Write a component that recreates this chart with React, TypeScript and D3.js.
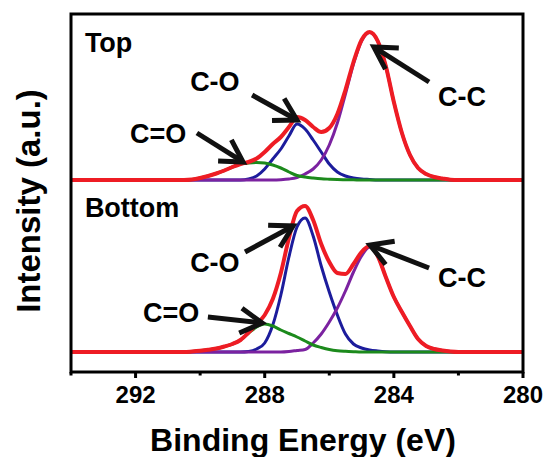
import React from "react";
import * as d3 from "d3";

// Binding energy grid (eV)
const energy = [294, 291, 290.5, 290.25, 290, 289.75, 289.5, 289.25, 289, 288.75, 288.5, 288.25, 288, 287.75, 287.5, 287.25, 287, 286.75, 286.5, 286.25, 286, 285.75, 285.5, 285.25, 285, 284.75, 284.5, 284.25, 284, 283.75, 283.5, 283.25, 283, 282.75, 282.5, 282.25, 282, 281.5, 280];

// Top spectrum (a.u.)
const topEnvelope = [0, 0, 0, 0.5, 2, 4, 6.5, 9.5, 13, 16, 18, 21.5, 28, 36, 43, 53, 63, 60, 53, 48, 52, 66, 90, 118, 140, 148, 139, 114, 78, 47, 25, 12, 6, 3, 1.5, 0.3, 0, 0, 0];
const topCC = [0, 0, 0, 0, 0, 0, 0, 0, 0, 0, 0, 0, 0, 0, 0.3, 1, 2.5, 6, 11, 20, 35, 57, 86, 116, 139, 147.5, 139, 114, 78, 47, 25, 12, 6, 3, 1.5, 0.3, 0, 0, 0];
const topCO = [0, 0, 0, 0, 0, 0, 0, 0, 0, 0, 1, 4, 11, 21, 31, 44, 56, 51, 40, 28, 16, 8, 4, 2, 1, 0.5, 0, 0, 0, 0, 0, 0, 0, 0, 0, 0, 0, 0, 0];
const topCdO = [0, 0, 0, 0.5, 2, 4, 6.5, 9.5, 13, 16, 17, 17.5, 17, 15, 12, 8, 4.5, 3, 2, 1.2, 0.8, 0.5, 0.3, 0.2, 0, 0, 0, 0, 0, 0, 0, 0, 0, 0, 0, 0, 0, 0, 0];

// Bottom spectrum (a.u.)
const bottomEnvelope = [0, 0, 0, 0.5, 1.2, 2.2, 3.5, 5.5, 8, 12, 19.5, 28, 37, 53, 79, 114, 141, 146, 132, 108, 90, 79, 78, 88, 100, 106, 96, 75, 55, 40, 26, 13, 6, 3, 1.5, 0.5, 0, 0, 0];
const bottomCC = [0, 0, 0, 0, 0, 0, 0, 0, 0, 0, 0, 0, 0, 0, 0, 0.5, 1.5, 2.5, 9, 18, 30, 44, 61, 80, 96, 105, 96, 75, 55, 40, 26, 13, 6, 3, 1.5, 0.5, 0, 0, 0];
const bottomCO = [0, 0, 0, 0, 0, 0, 0, 0, 0, 0, 0.5, 3, 9, 27, 57, 95, 125, 134, 116, 86, 60, 37, 18, 8, 4, 2, 1, 0.3, 0, 0, 0, 0, 0, 0, 0, 0, 0, 0, 0];
const bottomCdO = [0, 0, 0, 0.5, 1.2, 2.2, 3.5, 5.5, 8, 12, 19, 25, 28, 26, 22, 18.5, 15, 11, 7, 4.5, 2.5, 1.3, 0.7, 0.3, 0, 0, 0, 0, 0, 0, 0, 0, 0, 0, 0, 0, 0, 0, 0];

// Vertical offsets of the stacked spectra (a.u.)
const panelOffsets = [192, 20];
const panelNames = ["Top", "Bottom"];

const majorTicks = [292, 288, 284, 280];
const minorTicks = [294, 290, 286, 282];

// Annotations in data coordinates: [energy, intensity]
const labelTexts = ["C-O", "C=O", "C-C", "C-O", "C=O", "C-C"];
const labelPos: [number, number][] = [
  [290.31, 281], [292.17, 229], [282.63, 266],
  [290.31, 100], [291.77, 50], [282.63, 85],
];
const arrowTail: [number, number][] = [
  [288.39, 277], [290.1, 239], [282.91, 290],
  [288.61, 120], [289.76, 55], [282.91, 104],
];
const arrowTip: [number, number][] = [
  [287.0, 252], [288.67, 210], [284.62, 325],
  [287.12, 146], [288.08, 49], [284.74, 127],
];
const panelLabelPos: [number, number][] = [[293.57, 320], [293.57, 155]];

const W = 544;
const H = 457;
const FONT = "'Liberation Sans', Arial, Helvetica, sans-serif";

const RED = "#ee1c24";
const BLUE = "#1c1c9c";
const PURPLE = "#7b22a0";
const GREEN = "#1c8a1c";

export default function App() {
  const x = d3.scaleLinear().domain([294, 280]).range([71, 523]);
  const y = d3.scaleLinear().domain([0, 358]).range([372, 14]);

  const mkLine = (offset: number) =>
    d3
      .line<number>()
      .x((_, i) => x(energy[i]))
      .y((d) => y(d + offset))
      .curve(d3.curveMonotoneX);

  const panels = [
    { env: topEnvelope, cc: topCC, co: topCO, cdo: topCdO },
    { env: bottomEnvelope, cc: bottomCC, co: bottomCO, cdo: bottomCdO },
  ];

  const arrowHead = (tail: [number, number], tip: [number, number]) => {
    const tx = x(tip[0]);
    const ty = y(tip[1]);
    const sx = x(tail[0]);
    const sy = y(tail[1]);
    const ang = Math.atan2(sy - ty, sx - tx);
    const L = 25;
    const a1 = ang + Math.PI / 6;
    const a2 = ang - Math.PI / 6;
    return {
      shaft: `M${sx},${sy}L${tx + Math.cos(ang) * 2},${ty + Math.sin(ang) * 2}`,
      head: `M${tx + Math.cos(a1) * L},${ty + Math.sin(a1) * L}L${tx},${ty}L${tx + Math.cos(a2) * L},${ty + Math.sin(a2) * L}`,
    };
  };

  const [x0, x1] = x.range();
  const [yb, yt] = y.range();

  return (
    <svg
      width={W}
      height={H}
      style={{ position: "absolute", left: 0, top: 0, background: "#fff" }}
      fontFamily={FONT}
      fontWeight="bold"
    >
      <rect width={W} height={H} fill="#fff" />
      {panels.map((p, k) => {
        const line = mkLine(panelOffsets[k]);
        return (
          <g key={k} fill="none" strokeLinejoin="round">
            <path d={line(p.co) || ""} stroke={BLUE} strokeWidth={3} />
            <path d={line(p.cc) || ""} stroke={PURPLE} strokeWidth={3} />
            <path d={line(p.cdo) || ""} stroke={GREEN} strokeWidth={3} />
            <path d={line(p.env) || ""} stroke={RED} strokeWidth={4} />
          </g>
        );
      })}

      {/* frame */}
      <rect x={x0} y={yt} width={x1 - x0} height={yb - yt} fill="none" stroke="#000" strokeWidth={3} />
      {majorTicks.map((t) => (
        <line key={"M" + t} x1={x(t)} x2={x(t)} y1={yb} y2={yb + 6} stroke="#000" strokeWidth={3} />
      ))}
      {minorTicks.map((t) => (
        <line key={"m" + t} x1={x(t)} x2={x(t)} y1={yb} y2={yb + 3.5} stroke="#000" strokeWidth={3} />
      ))}
      {majorTicks.map((t) => (
        <text key={"L" + t} x={x(t)} y={403} fontSize={24} textAnchor="middle" fill="#000">
          {t}
        </text>
      ))}

      <text x={(x0 + x1) / 2 + 6} y={451} fontSize={32} textAnchor="middle" fill="#000">
        Binding Energy (eV)
      </text>
      <text
        transform={`translate(40, ${(yt + yb) / 2 + 8}) rotate(-90)`}
        fontSize={33}
        textAnchor="middle"
        fill="#000"
      >
        Intensity (a.u.)
      </text>

      {panelNames.map((n, k) => (
        <text key={n} x={x(panelLabelPos[k][0])} y={y(panelLabelPos[k][1])} fontSize={27} fill="#000">
          {n}
        </text>
      ))}
      {labelTexts.map((t, i) => (
        <text key={"t" + i} x={x(labelPos[i][0])} y={y(labelPos[i][1])} fontSize={27} fill="#000">
          {t}
        </text>
      ))}
      {labelTexts.map((_, i) => {
        const a = arrowHead(arrowTail[i], arrowTip[i]);
        return (
          <g key={"a" + i} fill="none" stroke="#111" strokeWidth={5}>
            <path d={a.shaft} strokeLinecap="butt" />
            <path d={a.head} strokeLinejoin="miter" strokeLinecap="butt" />
          </g>
        );
      })}
    </svg>
  );
}
